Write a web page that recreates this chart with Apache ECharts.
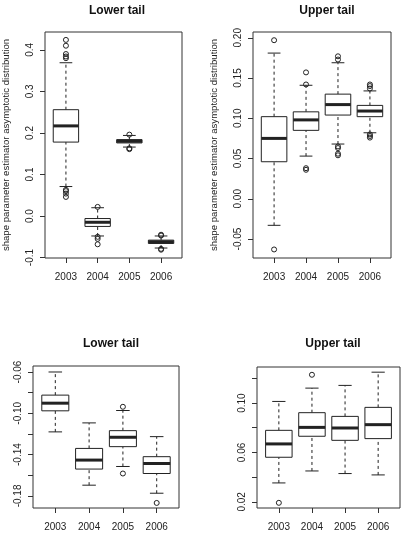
<!DOCTYPE html>
<html>
<head>
<meta charset="utf-8">
<script src="https://cdn.jsdelivr.net/npm/echarts@6/dist/echarts.min.js"></script>
<style>
html, body { margin: 0; padding: 0; background: #fff; }
#chart { width: 401px; height: 548px; }
</style>
</head>
<body>
<div id="chart"></div>
<script>
const years = ['2003', '2004', '2005', '2006'];
const yName = 'shape parameter estimator asymptotic distribution';

// each box: [lower whisker, Q1, median, Q3, upper whisker]
const lowerTailTop = [
  [0.071, 0.178, 0.217, 0.256, 0.369],
  [-0.048, -0.025, -0.015, -0.006, 0.020],
  [0.166, 0.176, 0.180, 0.184, 0.194],
  [-0.077, -0.066, -0.062, -0.058, -0.048]
];
const lowerTailTopOut = [
  [0.424, 0.410, 0.390, 0.384, 0.380, 0.063, 0.060, 0.054, 0.046],
  [0.022, -0.050, -0.055, -0.068],
  [0.196, 0.163, 0.161],
  [-0.045, -0.047, -0.079, -0.081]
];
const upperTailTop = [
  [-0.033, 0.046, 0.075, 0.102, 0.181],
  [0.053, 0.085, 0.098, 0.108, 0.141],
  [0.068, 0.104, 0.117, 0.130, 0.169],
  [0.082, 0.102, 0.109, 0.116, 0.134]
];
const upperTailTopOut = [
  [0.197, -0.063],
  [0.157, 0.142, 0.038, 0.036],
  [0.177, 0.173, 0.065, 0.063, 0.056, 0.054],
  [0.142, 0.140, 0.137, 0.080, 0.078, 0.076]
];
const lowerTailBottom = [
  [-0.118, -0.0976, -0.0902, -0.0824, -0.060],
  [-0.1696, -0.154, -0.1453, -0.134, -0.1093],
  [-0.1515, -0.1323, -0.1232, -0.1168, -0.0973],
  [-0.1774, -0.1583, -0.1486, -0.142, -0.1226]
];
const lowerTailBottomOut = [
  [],
  [],
  [-0.0937, -0.1583],
  [-0.1868]
];
const upperTailBottom = [
  [0.0353, 0.0561, 0.0669, 0.0779, 0.1013],
  [0.045, 0.0731, 0.0803, 0.0922, 0.1121],
  [0.0429, 0.0698, 0.0798, 0.0892, 0.1143],
  [0.0418, 0.0712, 0.0825, 0.0965, 0.125]
];
const upperTailBottomOut = [
  [0.0192],
  [0.1229],
  [],
  []
];

const panels = [
  { title: 'Lower tail', boxes: lowerTailTop, outliers: lowerTailTopOut,
    yMin: -0.101, yMax: 0.443, ticks: [-0.1, 0, 0.1, 0.2, 0.3, 0.4],
    labels: [-0.1, 0, 0.1, 0.2, 0.3, 0.4], digits: 1, name: yName,
    grid: { left: 43, right: 219, top: 32, bottom: 290 }, titlePos: [112, 0] },
  { title: 'Upper tail', boxes: upperTailTop, outliers: upperTailTopOut,
    yMin: -0.0736, yMax: 0.2072, ticks: [-0.05, 0, 0.05, 0.1, 0.15, 0.2],
    labels: [-0.05, 0, 0.05, 0.1, 0.15, 0.2], digits: 2, name: yName,
    grid: { left: 253, right: 10, top: 32, bottom: 290 }, titlePos: [322, 0] },
  { title: 'Lower tail', boxes: lowerTailBottom, outliers: lowerTailBottomOut,
    yMin: -0.1917, yMax: -0.0542, ticks: [-0.18, -0.16, -0.14, -0.12, -0.1, -0.08, -0.06],
    labels: [-0.18, -0.14, -0.1, -0.06], digits: 2, name: '',
    grid: { left: 33, right: 222, top: 366, bottom: 40 }, titlePos: [106, 333] },
  { title: 'Upper tail', boxes: upperTailBottom, outliers: upperTailBottomOut,
    yMin: 0.015, yMax: 0.1292, ticks: [0.02, 0.04, 0.06, 0.08, 0.1, 0.12],
    labels: [0.02, 0.06, 0.1], digits: 2, name: '',
    grid: { left: 257, right: 1, top: 367, bottom: 40 }, titlePos: [328, 333] }
];

const ink = '#222';
const font = 'Liberation Sans, Arial, sans-serif';

function renderBox(params, api) {
  const x = api.value(0);
  const p = [1, 2, 3, 4, 5].map(i => api.coord([x, api.value(i)]));
  const w = api.size([0.8, 0])[0];
  const cx = p[0][0];
  const left = cx - w / 2;
  const dash = { stroke: ink, lineWidth: 1, lineDash: [3, 3], fill: null };
  const solid = { stroke: ink, lineWidth: 1, fill: null };
  return {
    type: 'group',
    children: [
      { type: 'line', shape: { x1: cx, y1: p[0][1], x2: cx, y2: p[1][1] }, style: dash },
      { type: 'line', shape: { x1: cx, y1: p[3][1], x2: cx, y2: p[4][1] }, style: dash },
      { type: 'line', shape: { x1: cx - w / 4, y1: p[0][1], x2: cx + w / 4, y2: p[0][1] }, style: solid },
      { type: 'line', shape: { x1: cx - w / 4, y1: p[4][1], x2: cx + w / 4, y2: p[4][1] }, style: solid },
      { type: 'rect', shape: { x: left, y: p[3][1], width: w, height: p[1][1] - p[3][1] },
        style: { fill: '#fff', stroke: ink, lineWidth: 1 } },
      { type: 'line', shape: { x1: left, y1: p[2][1], x2: left + w, y2: p[2][1] },
        style: { stroke: ink, lineWidth: 3 } }
    ]
  };
}

const option = {
  backgroundColor: '#fff',
  animation: false,
  title: [],
  grid: [],
  xAxis: [],
  yAxis: [],
  series: []
};

panels.forEach((pn, i) => {
  option.title.push({
    text: pn.title, left: pn.titlePos[0], top: pn.titlePos[1], textAlign: 'center',
    textStyle: { fontSize: 12, fontWeight: 'bold', color: '#111', fontFamily: font }
  });
  option.grid.push(Object.assign({ show: true, borderColor: '#333', borderWidth: 1, backgroundColor: 'transparent' }, pn.grid));
  option.xAxis.push({
    type: 'value', gridIndex: i, min: 0.34, max: 4.66, position: 'bottom',
    axisLine: { show: false, onZero: false }, splitLine: { show: false },
    axisTick: { show: true, customValues: [1, 2, 3, 4], length: 5, lineStyle: { color: '#333' } },
    axisLabel: { customValues: [1, 2, 3, 4], formatter: v => years[Math.round(v) - 1],
      margin: 14, fontSize: 10, color: ink, fontFamily: font }
  });
  option.yAxis.push({
    type: 'value', gridIndex: i, min: pn.yMin, max: pn.yMax, position: 'left',
    name: pn.name, nameLocation: 'middle', nameRotate: 90, nameGap: 34,
    nameTextStyle: { fontSize: 9.6, color: ink, fontFamily: font },
    axisLine: { show: false, onZero: false }, splitLine: { show: false },
    axisTick: { show: true, customValues: pn.ticks, length: 5, lineStyle: { color: '#333' } },
    axisLabel: { customValues: pn.labels, rotate: 90, margin: 10, fontSize: 10, color: ink,
      fontFamily: font, formatter: v => v.toFixed(pn.digits) }
  });
  option.series.push({
    type: 'custom', xAxisIndex: i, yAxisIndex: i,
    renderItem: renderBox,
    encode: { x: 0, y: [1, 2, 3, 4, 5] },
    data: pn.boxes.map((b, k) => [k + 1].concat(b))
  });
  const pts = [];
  pn.outliers.forEach((vals, k) => vals.forEach(v => pts.push([k + 1, v])));
  option.series.push({
    type: 'scatter', xAxisIndex: i, yAxisIndex: i, z: 5,
    symbol: 'circle', symbolSize: 5,
    itemStyle: { color: 'rgba(255,255,255,0)', borderColor: ink, borderWidth: 1, opacity: 1 },
    data: pts
  });
});

const chart = echarts.init(document.getElementById('chart'), null, { renderer: 'canvas' });
chart.setOption(option);
</script>
</body>
</html>
